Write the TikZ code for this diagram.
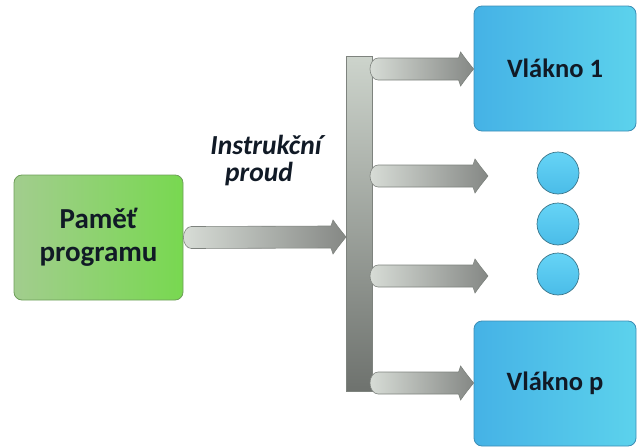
\documentclass[tikz,border=0pt]{standalone}
\usepackage{fontspec}
\setmainfont{Carlito}
\usetikzlibrary{calc}

\definecolor{txt}{HTML}{111A26}
\definecolor{greenL}{HTML}{A2CD8E}
\definecolor{greenR}{HTML}{78D850}
\definecolor{greenB}{HTML}{6E9E5A}
\definecolor{blueL}{HTML}{45B2E6}
\definecolor{blueR}{HTML}{5CD2EC}
\definecolor{blueB}{HTML}{3C8DB5}
\definecolor{dotT}{HTML}{66D4F6}
\definecolor{dotB}{HTML}{4ABCE8}
\definecolor{dotE}{HTML}{3A7488}
\definecolor{pipeL}{HTML}{D7DCD6}
\definecolor{pipeR}{HTML}{858885}
\definecolor{pipeE}{HTML}{7E837E}
\definecolor{barT}{HTML}{CDD4CC}
\definecolor{barB}{HTML}{6E726E}

\tikzset{
  box/.style={rounded corners=8pt, draw=#1, line width=0.8pt, minimum width=162pt,
    minimum height=125pt, font=\bfseries\fontsize{26.5}{29}\selectfont, text=txt, align=center},
  threadbox/.style={box=blueB, left color=blueL, right color=blueR},
  memorybox/.style={box=greenB, left color=greenL, right color=greenR,
    minimum width=169pt, minimum height=125pt,
    font=\bfseries\fontsize{29}{33}\selectfont},
  dot/.style={circle, minimum size=42pt, inner sep=0pt, draw=dotE, line width=0.7pt,
    top color=dotT, bottom color=dotB},
  pipe/.style={draw=pipeE, line width=0.6pt, left color=pipeL, right color=pipeR},
  label/.style={font=\bfseries\itshape\fontsize{27.5}{30}\selectfont, text=txt}
}

% thick arrow from coordinate #1 to coordinate #2 (same height), shaft half-height 11
\newcommand{\fatarrow}[2]{%
  \shade[pipe]
    ($(#1)+(0,-11)$) -- ($(#2)+(-15,-11)$) -- ($(#2)+(-13,-17)$)
    .. controls ($(#2)+(-8,-10)$) .. (#2)
    .. controls ($(#2)+(-8,10)$) .. ($(#2)+(-13,17)$)
    -- ($(#2)+(-15,11)$) -- ($(#1)+(0,11)$)
    arc[start angle=90, end angle=270, x radius=8, y radius=11] -- cycle;}

\begin{document}
\begin{tikzpicture}[x=1pt, y=-1pt]
  \useasboundingbox (0,0) rectangle (638,447);

  % nodes
  \node[memorybox] (mem) at (98.5,237.5) {Paměť\\programu};
  \node[threadbox] (t1) at (555,68.5) {Vlákno 1};
  \node[threadbox] (tp) at (555,383.5) {Vlákno p};
  \node[dot] (d1) at (558,173) {};
  \node[dot] (d2) at (558,224) {};
  \node[dot] (d3) at (558,274) {};
  \node[label, anchor=base] (lab1) at (266,154) {Instrukční};
  \node[label, anchor=base] (lab2) at (259,181) {proud};

  % distribution bar
  \shade[draw=pipeE, line width=0.6pt, top color=barT, bottom color=barB]
    (346,56) rectangle (372,391);
  \coordinate (barL) at (346,237);

  % stream into the bar
  \coordinate (s0) at ($(mem.east)+(8,0)$);
  \fatarrow{s0}{barL}

  % branches out of the bar
  \coordinate (b1) at (378,69);
  \coordinate (b2) at (378,176);
  \coordinate (b3) at (378,276);
  \coordinate (b4) at (378,383);
  \coordinate (e1) at (t1.west |- b1);
  \coordinate (e4) at (tp.west |- b4);
  \coordinate (e2) at (488,176);
  \coordinate (e3) at (488,276);
  \fatarrow{b1}{e1}
  \fatarrow{b2}{e2}
  \fatarrow{b3}{e3}
  \fatarrow{b4}{e4}
\end{tikzpicture}
\end{document}
